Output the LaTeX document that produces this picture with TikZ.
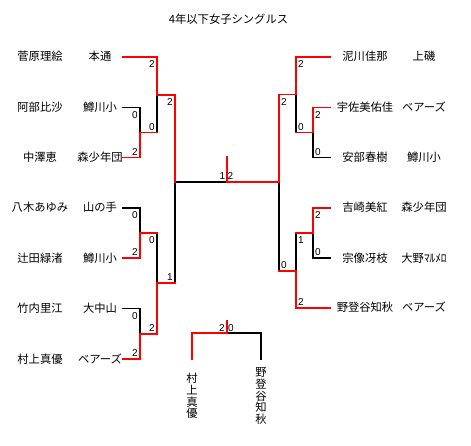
\documentclass[tikz,border=0pt]{standalone}
\usepackage{fontspec}
\setmainfont{Noto Sans CJK JP}
\newfontfamily\numfont{Liberation Sans}
\usetikzlibrary{calc}
\begin{document}
\begin{tikzpicture}[x=1pt,y=-1pt,
  win/.style={draw=red,line width=1.8pt,line cap=rect},
  lose/.style={draw=black,line width=1.8pt,line cap=rect},
  nm/.style={inner sep=0pt,font=\fontsize{11.3}{13}\selectfont,anchor=base},
  sc/.style={inner sep=0pt,font=\numfont\fontsize{10}{12}\selectfont},
  vt/.style={inner sep=0pt,align=center,font=\fontsize{11.3}{11.6}\selectfont}]
\useasboundingbox (0,0) rectangle (471,446);
% title
\node[nm] (title) at (228.5,24) {4年以下女子シングルス};
% left players
\node[nm] (nl1) at (40,61) {菅原理絵};   \node[nm] (cl1) at (100,61) {本通};
\node[nm] (nl2) at (40,111.5) {阿部比沙}; \node[nm] (cl2) at (100,111.5) {鱒川小};
\node[nm] (nl3) at (40,161.5) {中澤恵};   \node[nm] (cl3) at (100,161.5) {森少年団};
\node[nm] (nl4) at (40,212) {八木あゆみ}; \node[nm] (cl4) at (100,212) {山の手};
\node[nm] (nl5) at (40,262) {辻田緑渚};   \node[nm] (cl5) at (100,262) {鱒川小};
\node[nm] (nl6) at (40,312.5) {竹内里江}; \node[nm] (cl6) at (100,312.5) {大中山};
\node[nm] (nl7) at (40,363) {村上真優};   \node[nm] (cl7) at (100,363) {ベアーズ};
% right players
\node[nm] (nr1) at (365,61) {泥川佳那};     \node[nm] (cr1) at (424,61) {上磯};
\node[nm] (nr2) at (365,111.5) {宇佐美佑佳}; \node[nm] (cr2) at (424,111.5) {ベアーズ};
\node[nm] (nr3) at (365,161.5) {安部春樹};   \node[nm] (cr3) at (424,161.5) {鱒川小};
\node[nm] (nr4) at (365,212) {吉崎美紅};     \node[nm] (cr4) at (424,212) {森少年団};
\node[nm] (nr5) at (365,262) {宗像冴枝};     \node[nm] (cr5) at (424,262) {大野ﾏﾙﾒﾛ};
\node[nm] (nr6) at (365,312) {野登谷知秋};   \node[nm] (cr6) at (424,312) {ベアーズ};
% playoff names
\node[vt] (vl) at (192,396) {村\\上\\真\\優};
\node[vt] (vr) at (261,396) {野\\登\\谷\\知\\秋};
% coordinates
\coordinate (pl1) at (123,57);
\coordinate (pl2) at (123,107.5);
\coordinate (pl3) at (123,157.5);
\coordinate (pl4) at (123,208);
\coordinate (pl5) at (123,258);
\coordinate (pl6) at (123,308.5);
\coordinate (pl7) at (123,359);
\coordinate (pr1) at (330,57);
\coordinate (pr2) at (330,107.5);
\coordinate (pr3) at (330,157.5);
\coordinate (pr4) at (330,208);
\coordinate (pr5) at (330,258);
\coordinate (pr6) at (330,308);
\coordinate (mA) at (140,132.5);
\coordinate (mB) at (157,95);
\coordinate (mC) at (140,233);
\coordinate (mD) at (140,334);
\coordinate (mE) at (157,283);
\coordinate (mF) at (175,182);
\coordinate (ctr) at (227,182);
\coordinate (ctrT) at (227,157);
\coordinate (mG) at (313,132.5);
\coordinate (mH) at (296,94.5);
\coordinate (mI) at (313,233);
\coordinate (mJ) at (296,271);
\coordinate (mK) at (279,182);
\coordinate (pbL) at (192,359);
\coordinate (pbR) at (261,359);
\coordinate (pbC) at (227,333);
\coordinate (pbT) at (227,321);
% losing lines
\draw[lose] (pl2) -| (mA);
\draw[lose] (mA) -| (mB);
\draw[lose] (pl4) -| (mC);
\draw[lose] (pl6) -| (mD);
\draw[lose] (mC) -| (mE);
\draw[lose] (mE) -| (mF);
\draw[lose] (mF) -- (ctr);
\draw[lose] (pr3) -| (mG);
\draw[lose] (mG) -| (mH);
\draw[lose] (pr5) -| (mI);
\draw[lose] (mI) -| (mJ);
\draw[lose] (mJ) -| (mK);
\draw[lose] (pbR) |- (pbC);
% winning lines
\draw[win] (pl3) -| (mA);
\draw[win] (mA) -- (mA -| mB);
\draw[win] (pl1) -| (mB);
\draw[win] (pl5) -| (mC);
\draw[win] (mC) -- (mC -| mE);
\draw[win] (pl7) -| (mD);
\draw[win] (mD) -| (mE);
\draw[win] (mE) -- (mE -| mF);
\draw[win] (mB) -| (mF);
\draw[win] (pr2) -| (mG);
\draw[win] (mG) -- (mG -| mH);
\draw[win] (pr1) -| (mH);
\draw[win] (pr4) -| (mI);
\draw[win] (mI) -- (mI -| mJ);
\draw[win] (pr6) -| (mJ);
\draw[win] (mJ) -- (mJ -| mK);
\draw[win] (mH) -| (mK);
\draw[win] (mK) -- (ctr);
\draw[win] (ctr) -- (ctrT);
\draw[win] (pbL) |- (pbC);
\draw[win] (pbC) -- (pbT);
% scores left
\node[sc] (sA1) at ($(pl2-|mA)+(-5,7.5)$) {0};
\node[sc] (sA2) at ($(pl3-|mA)+(-5,-5.5)$) {2};
\node[sc] (sB1) at ($(pl1-|mB)+(-5,7.5)$) {2};
\node[sc] (sB2) at ($(mA-|mB)+(-5,-5.5)$) {0};
\node[sc] (sC1) at ($(pl4-|mC)+(-5,7.5)$) {0};
\node[sc] (sC2) at ($(pl5-|mC)+(-5,-5.5)$) {2};
\node[sc] (sD1) at ($(pl6-|mD)+(-5,7.5)$) {0};
\node[sc] (sD2) at ($(pl7-|mD)+(-5,-5.5)$) {2};
\node[sc] (sE1) at ($(mC-|mE)+(-5,7.5)$) {0};
\node[sc] (sE2) at ($(mD-|mE)+(-5,-5.5)$) {2};
\node[sc] (sF1) at ($(mB-|mF)+(-5,7.5)$) {2};
\node[sc] (sF2) at ($(mE-|mF)+(-5,-5.5)$) {1};
% scores right
\node[sc] (sH1) at ($(pr1-|mH)+(5,7.5)$) {2};
\node[sc] (sH2) at ($(mG-|mH)+(5,-5.5)$) {0};
\node[sc] (sG1) at ($(pr2-|mG)+(5,7.5)$) {2};
\node[sc] (sG2) at ($(pr3-|mG)+(5,-5.5)$) {0};
\node[sc] (sK1) at ($(mH-|mK)+(5,7.5)$) {2};
\node[sc] (sK2) at ($(mJ-|mK)+(5,-5.5)$) {0};
\node[sc] (sI1) at ($(pr4-|mI)+(5,7.5)$) {2};
\node[sc] (sI2) at ($(pr5-|mI)+(5,-5.5)$) {0};
\node[sc] (sJ1) at ($(mI-|mJ)+(5,7.5)$) {1};
\node[sc] (sJ2) at ($(pr6-|mJ)+(5,-5.5)$) {2};
% final and playoff scores
\node[sc] (sX1) at ($(ctr)+(-4.5,-5.5)$) {1};
\node[sc] (sX2) at ($(ctr)+(3.5,-5.5)$) {2};
\node[sc] (sY1) at ($(pbC)+(-5,-5)$) {2};
\node[sc] (sY2) at ($(pbC)+(4,-5)$) {0};
\end{tikzpicture}
\end{document}
